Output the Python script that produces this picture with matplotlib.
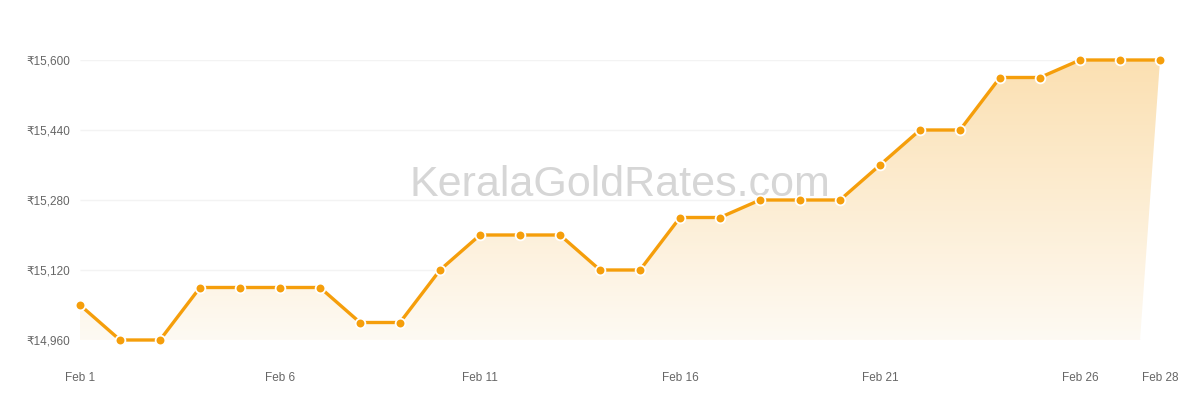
import numpy as np
import matplotlib
matplotlib.use("Agg")
from matplotlib import pyplot as plt
from matplotlib.patches import Polygon

# Kerala gold rate (22K per gram), February
days = list(range(1, 29))
prices = [15040, 14960, 14960, 15080, 15080, 15080, 15080, 15000, 15000, 15120,
          15200, 15200, 15200, 15120, 15120, 15240, 15240, 15280, 15280, 15280,
          15360, 15440, 15440, 15560, 15560, 15600, 15600, 15600]
y_ticks = [14960, 15120, 15280, 15440, 15600]
x_tick_days = [1, 6, 11, 16, 21, 26, 28]

line_color = "#f59e0b"
plt.rcParams['font.family'] = ['Liberation Sans', 'DejaVu Sans']

fig = plt.figure(figsize=(12, 4), dpi=100)
ax = fig.add_axes([80 / 1200, 60 / 400, 1080 / 1200, 280 / 400])

x = np.arange(len(days))
x_right = len(days) - 1.5  # grid / fill stop half a day before the last point

# gradient fill under the line
verts = list(zip(x, prices)) + [(x_right, y_ticks[0]), (0, y_ticks[0])]
poly = Polygon(verts, closed=True, facecolor="none", edgecolor="none")
ax.add_patch(poly)
grad = np.linspace(0, 1, 256).reshape(-1, 1)
cmap = matplotlib.colors.LinearSegmentedColormap.from_list("g", ["#fefaf3", "#fbe0b2"])
img = ax.imshow(grad, extent=[0, x[-1], y_ticks[0], y_ticks[-1]], aspect="auto",
                origin="lower", cmap=cmap, zorder=1)
img.set_clip_path(poly)

ax.hlines(y_ticks, 0, x_right, color="#f3f3f3", lw=1, zorder=0.5)

ax.text(13.5, 15314, "KeralaGoldRates.com", fontsize=31,
        color="#d6d6d6", ha="center", va="center", zorder=2)

ax.plot(x, prices, color=line_color, lw=2.4, zorder=3, clip_on=False,
        marker="o", markersize=7, markerfacecolor=line_color,
        markeredgecolor="white", markeredgewidth=1.3)

ax.set_yticks(y_ticks)
ax.set_yticklabels([f"₹{v:,}" for v in y_ticks])
ax.set_xticks([d - 1 for d in x_tick_days])
ax.set_xticklabels([f"Feb {d}" for d in x_tick_days])
ax.set_xlim(0, x[-1])
ax.set_ylim(y_ticks[0], y_ticks[-1])
ax.tick_params(length=0, labelsize=8.5, labelcolor="#666666")
ax.tick_params(axis="x", pad=23)
ax.tick_params(axis="y", pad=7)
for s in ax.spines.values():
    s.set_visible(False)

fig.savefig("out.png", dpi=100)
